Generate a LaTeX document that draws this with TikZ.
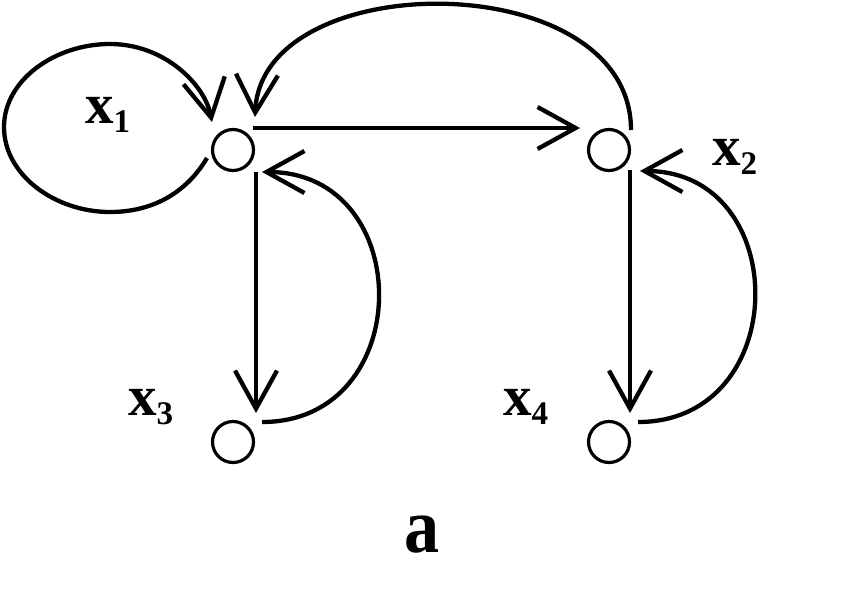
\documentclass[tikz,border=0pt]{standalone}
\usepackage{fontspec}
\setmainfont{Liberation Serif}
\usetikzlibrary{arrows.meta,calc}
\newcommand\subidx[1]{\raisebox{-9pt}{\fontsize{33}{33}\selectfont #1}}
\begin{document}
\begin{tikzpicture}[x=1pt,y=-1pt,
  vert/.style={circle,draw,line width=3.2pt,minimum size=41pt,inner sep=0pt},
  edge/.style={line width=4.3pt,-{Straight Barb[length=38pt,width=42pt]}},
  lbl/.style={anchor=base west,inner sep=0pt,font=\bfseries\fontsize{57}{60}\selectfont}]
\useasboundingbox (0,0) rectangle (845,592);
\node[vert] (n1) at (233,150) {};
\node[vert] (n2) at (609,150) {};
\node[vert] (n3) at (233,442) {};
\node[vert] (n4) at (609,442) {};
\node[lbl] (l1) at (85,123) {x\subidx{1}};
\node[lbl] (l2) at (712,165) {x\subidx{2}};
\node[lbl] (l3) at (128,415) {x\subidx{3}};
\node[lbl] (l4) at (503,415) {x\subidx{4}};
\node[anchor=base west,inner sep=0pt,font=\bfseries\fontsize{78}{80}\selectfont] (cap) at (404,552) {\scalebox{0.9}[1]{a}};
% straight edges
\draw[edge] ($(n1)+(20,-22)$) -- ($(n2)+(-29,-22)$);
\draw[edge] ($(n1)+(23,22)$) -- ($(n3)+(23,-29)$);
\draw[edge] ($(n2)+(21,20)$) -- ($(n4)+(21,-29)$);
% return arcs
\draw[edge] ($(n3)+(29,-20)$) .. controls ($(n3)+(184,-20)$) and ($(n1)+(184,22)$) .. ($(n1)+(29,22)$);
\draw[edge] ($(n4)+(29,-20)$) .. controls ($(n4)+(184,-20)$) and ($(n2)+(184,21)$) .. ($(n2)+(31,21)$);
% big arc x2 -> x1
\draw[edge] ($(n2)+(22,-20)$) .. controls ($(n2)+(22,-185)$) and ($(n1)+(29,-185)$) .. ($(n1)+(22,-33)$);
% self loop on x1
\draw[edge] ($(n1)+(-26,8)$) .. controls (185,195) and (150,212) .. (110,212)
  .. controls (55,212) and (4,175) .. (4,127)
  .. controls (4,80) and (55,44) .. (110,44)
  .. controls (165,44) and (205,85) .. ($(n1)+(-21,-28)$);
\end{tikzpicture}
\end{document}
